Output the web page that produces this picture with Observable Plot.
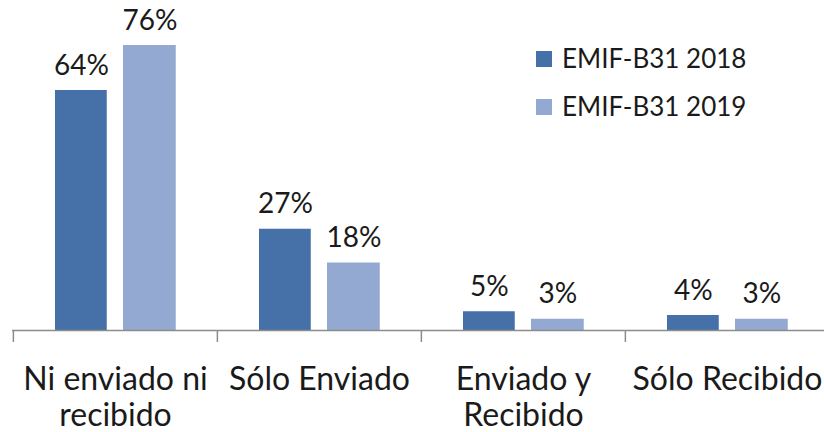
<!DOCTYPE html>
<html>
<head>
<meta charset="utf-8">
<script src="https://cdn.jsdelivr.net/npm/d3@7"></script>
<script src="https://cdn.jsdelivr.net/npm/@observablehq/plot@0.6"></script>
<style>
  body { margin: 0; background: #ffffff; }
  #chart { position: relative; width: 824px; height: 432px; overflow: hidden; }
  #chart svg { display: block; }
</style>
</head>
<body>
<div id="chart"></div>
<script>
// Categories (with their line-broken axis labels) and the two survey series.
const categories = ["Ni enviado ni recibido", "Sólo Enviado", "Enviado y Recibido", "Sólo Recibido"];
const categoryLabels = ["Ni enviado ni\nrecibido", "Sólo Enviado", "Enviado y\nRecibido", "Sólo Recibido"];
const seriesNames = ["EMIF-B31 2018", "EMIF-B31 2019"];
const values2018 = [64, 27, 5, 4];
const values2019 = [76, 18, 3, 3];
const seriesColors = ["#4570a8", "#93a9d2"];

const FONT = "Lato, 'Liberation Sans', sans-serif";

const rows2018 = categories.map((c, i) => ({category: c, value: values2018[i]}));
const rows2019 = categories.map((c, i) => ({category: c, value: values2019[i]}));
const labelRows = categories.map((c, i) => ({category: c, label: categoryLabels[i]}));

const W = 824, H = 432;
const bandStart = 12, bandEnd = 829;
const bw = (bandEnd - bandStart) / categories.length;

const chart = Plot.plot({
  width: W,
  height: H,
  marginTop: 45,
  marginBottom: 102,
  marginLeft: 12,
  marginRight: 0,
  style: {fontFamily: FONT, background: "#ffffff", overflow: "visible"},
  x: {domain: categories, range: [bandStart, bandEnd], padding: 0, axis: null},
  y: {domain: [0, d3.max([...values2018, ...values2019])], axis: null},
  marks: [
    // 2018 bars (left of each pair) and 2019 bars (right)
    Plot.barY(rows2018, {x: "category", y: "value", fill: seriesColors[0], insetLeft: 42, insetRight: bw - 94}),
    Plot.barY(rows2019, {x: "category", y: "value", fill: seriesColors[1], insetLeft: 110, insetRight: bw - 163}),
    // value labels
    Plot.text(rows2018, {x: "category", y: "value", text: d => d.value + "%", dx: 68 - bw / 2, dy: -16,
      lineAnchor: "bottom", fontSize: 28, fill: "#1a1a1a"}),
    Plot.text(rows2019, {x: "category", y: "value", text: d => d.value + "%", dx: 136.5 - bw / 2, dy: -16,
      lineAnchor: "bottom", fontSize: 28, fill: "#1a1a1a"}),
    // baseline and category separator ticks
    Plot.ruleY([0], {stroke: "#8c8c8c", strokeWidth: 1.5}),
    Plot.ruleX(categories, {x: d => d, dx: -bw / 2, stroke: "#8c8c8c", strokeWidth: 1.5, insetTop: 285 - 12, dy: 12}),
    // category labels
    Plot.text(labelRows, {x: "category", text: "label", frameAnchor: "bottom", lineAnchor: "top", dy: 34,
      lineHeight: 1.13, fontSize: 32, fill: "#1a1a1a"})
  ]
});

document.getElementById("chart").appendChild(chart);

// Legend drawn into the chart's SVG, top right
const legend = d3.select(chart).append("g")
  .attr("font-family", FONT)
  .attr("font-size", 26)
  .attr("text-anchor", "start")
  .attr("fill", "#1a1a1a");
const entries = legend.selectAll("g").data(seriesNames).join("g")
  .attr("transform", (d, i) => `translate(536, ${51 + i * 48})`);
entries.append("rect").attr("width", 16).attr("height", 16)
  .attr("fill", (d, i) => seriesColors[i]);
entries.append("text").attr("x", 26).attr("y", 17).text(d => d);
</script>
</body>
</html>
